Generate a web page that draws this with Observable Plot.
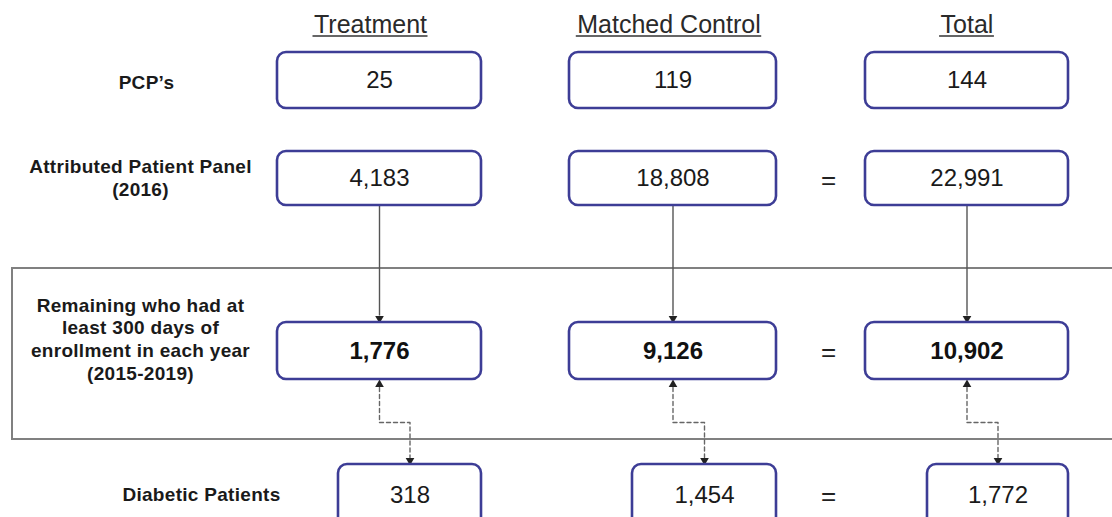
<!DOCTYPE html>
<html>
<head>
<meta charset="utf-8">
<script src="https://cdn.jsdelivr.net/npm/d3@7"></script>
<script src="https://cdn.jsdelivr.net/npm/@observablehq/plot@0.6"></script>
<style>
  html, body { margin: 0; padding: 0; background: #fff; }
  #chart svg { display: block; }
</style>
</head>
<body>
<div id="chart"></div>
<script>
// ---------- data ----------
const columns = ["Treatment", "Matched Control", "Total"];
const rowLabels = [
  "PCP’s",
  "Attributed Patient Panel\n(2016)",
  "Remaining who had at\nleast 300 days of\nenrollment in each year\n(2015-2019)",
  "Diabetic Patients"
];
const pcps = [25, 119, 144];
const attributedPanel = [4183, 18808, 22991];
const remaining = [1776, 9126, 10902];
const diabetic = [318, 1454, 1772];

// ---------- layout (pixel positions, separate from data) ----------
const W = 1112, H = 517;
const FONT = "Liberation Sans, Arial, Helvetica, sans-serif";
const colX = [[277, 481], [569, 776], [865, 1068]];         // rows 1-3 box x extents
const row4X = [[338, 481], [632, 776], [927, 1068]];        // row 4 box x extents
const rowY = [[52, 108], [151, 205], [322, 379], [464, 532]];
const headerY = 24, headerSize = 25, underlineY = 35.5;
const headerShift = [-9, -4, 0];
const labelPos = [[146, 81], [140, 177], [140, 338], [201, 493]];
const eqX = 828;
const frame = {x1: 12, x2: 1124, y1: 268, y2: 439};
const dashMidY = 422;

const fmt = d3.format(",");
const rowsValues = [pcps, attributedPanel, remaining, diabetic];

// boxes
const boxes = [];
rowsValues.forEach((vals, r) => {
  vals.forEach((v, c) => {
    const [x1, x2] = r === 3 ? row4X[c] : colX[c];
    const [y1, y2] = rowY[r];
    boxes.push({row: r, col: c, x1, x2, y1, y2, value: v,
      cx: (x1 + x2) / 2, cy: r === 3 ? 495 : (y1 + y2) / 2});
  });
});

// text measuring for header underlines
const ctx = document.createElement("canvas").getContext("2d");
ctx.font = `${headerSize}px ${FONT}`;
const headers = columns.map((name, c) => {
  const x = (colX[c][0] + colX[c][1]) / 2 + headerShift[c];
  const w = ctx.measureText(name).width;
  return {name, x, y: headerY, u1: x - w / 2 - 1, u2: x + w / 2 + 1, uy: underlineY};
});
const labels = rowLabels.map((t, r) => ({text: t, x: labelPos[r][0], y: labelPos[r][1]}));
const equals = [1, 2, 3].map(r => ({x: eqX, y: r === 3 ? 496 : (rowY[r][0] + rowY[r][1]) / 2 + 2}));

// solid arrows rows 2 -> 3
const solid = columns.map((_, c) => {
  const cx = (colX[c][0] + colX[c][1]) / 2;
  return {x: cx, y1: rowY[1][1], y2: rowY[2][0] - 7, tipY: rowY[2][0] - 4};
});

// dashed connectors rows 3 <-> 4
const dashed = [];
const upHeads = [], downHeads = [];
columns.forEach((_, c) => {
  const cx = (colX[c][0] + colX[c][1]) / 2;
  const dx = (row4X[c][0] + row4X[c][1]) / 2;
  const top = rowY[2][1] + 8, bottom = rowY[3][0] - 7;
  [[cx, top], [cx, dashMidY], [dx, dashMidY], [dx, bottom]].forEach(([x, y]) => dashed.push({c, x, y}));
  upHeads.push({x: cx, y: rowY[2][1] + 5});
  downHeads.push({x: dx, y: rowY[3][0] - 4});
});

const svg = Plot.plot({
  width: W,
  height: H,
  margin: 0,
  x: {domain: [0, W], range: [0, W], axis: null},
  y: {domain: [0, H], range: [0, H], axis: null},
  style: {fontFamily: FONT, background: "white"},
  marks: [
    Plot.rect([frame], {x1: "x1", x2: "x2", y1: "y1", y2: "y2", fill: "none", stroke: "#808080", strokeWidth: 2}),
    Plot.link(solid, {x1: "x", x2: "x", y1: "y1", y2: "y2", stroke: "#555", strokeWidth: 1.4}),
    Plot.dot(solid, {x: "x", y: "tipY", symbol: "triangle", r: 3.2, fill: "#222", stroke: "none", rotate: 180}),
    Plot.line(dashed, {x: "x", y: "y", z: "c", stroke: "#666", strokeWidth: 1.4, strokeDasharray: "4,3", curve: "linear"}),
    Plot.dot(upHeads, {x: "x", y: "y", symbol: "triangle", r: 3.2, fill: "#222", stroke: "none"}),
    Plot.dot(downHeads, {x: "x", y: "y", symbol: "triangle", r: 3.2, fill: "#222", stroke: "none", rotate: 180}),
    Plot.rect(boxes, {x1: "x1", x2: "x2", y1: "y1", y2: "y2", fill: "white", stroke: "#3d3d96", strokeWidth: 2.6, rx: 9}),
    Plot.text(boxes.filter(d => d.row !== 2), {x: "cx", y: "cy", text: d => fmt(d.value), fontSize: 24, fill: "#1a1a1a", fontFamily: FONT}),
    Plot.text(boxes.filter(d => d.row === 2), {x: "cx", y: "cy", text: d => fmt(d.value), fontSize: 24, fontWeight: "bold", fill: "#111", fontFamily: FONT}),
    Plot.text(equals, {x: "x", y: "y", text: () => "=", fontSize: 26, fill: "#222", fontFamily: FONT}),
    Plot.text(headers, {x: "x", y: "y", text: "name", fontSize: headerSize, fill: "#2a2a2a", fontFamily: FONT}),
    Plot.ruleY(headers, {y: "uy", x1: "u1", x2: "u2", stroke: "#333", strokeWidth: 1.6}),
    Plot.text(labels, {x: "x", y: "y", text: "text", fontSize: 19, fontWeight: "bold", fill: "#1a1a1a",
      lineHeight: 1.19, fontFamily: FONT, ariaDescription: "rowlabel"})
  ]
});

d3.select(svg).selectAll('g[aria-description="rowlabel"] text').style("letter-spacing", "0.3px");
document.getElementById("chart").appendChild(svg);
</script>
</body>
</html>
